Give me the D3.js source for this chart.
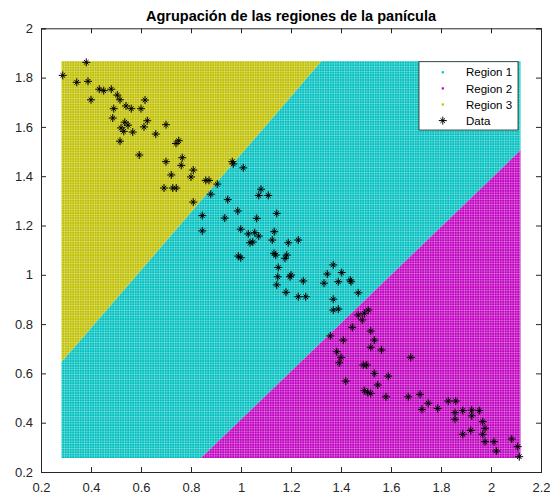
<!DOCTYPE html>
<html>
<head>
<meta charset="utf-8">
<script src="https://cdn.jsdelivr.net/npm/d3@7"></script>
<style>
  body { margin: 0; background: #fff; }
  svg { display: block; font-family: "Liberation Sans", Arial, Helvetica, sans-serif; }
</style>
</head>
<body>
<svg id="chart" width="550" height="494"></svg>
<script>
// data points (x = width-ish, y = length-ish)
var dataX = [0.287,0.381,0.343,0.388,0.40,0.433,0.451,0.481,0.505,0.516,0.491,0.487,0.54,0.561,0.60,0.616,0.625,0.612,0.535,0.548,
  0.52,0.531,0.567,0.516,0.593,0.659,0.70,0.74,0.751,0.765,0.761,0.70,0.721,0.692,0.727,0.741,0.80,0.809,0.809,0.859,
  0.872,0.879,0.905,0.845,0.845,0.965,0.969,1.009,0.947,0.935,0.987,0.999,1.029,1.063,1.055,1.071,1.036,1.047,1.08,1.071,
  1.109,1.125,1.133,1.143,1.189,1.229,0.989,0.999,1.132,1.139,1.183,1.176,1.149,1.147,1.143,1.20,1.196,1.18,1.229,1.259,
  1.249,1.369,1.345,1.403,1.332,1.389,1.437,1.44,1.369,1.369,1.389,1.469,1.469,1.485,1.493,1.509,1.445,1.357,1.409,1.519,
  1.533,1.519,1.562,1.383,1.40,1.393,1.489,1.503,1.679,1.533,1.589,1.419,1.547,1.493,1.507,1.519,1.58,1.669,1.716,1.724,
  1.749,1.787,1.829,1.859,1.856,1.856,1.887,1.887,1.923,1.923,1.953,1.919,1.967,1.976,1.967,1.976,2.012,2.021,2.083,2.107,2.113];
var dataY = [1.809,1.862,1.781,1.785,1.710,1.753,1.747,1.753,1.729,1.710,1.674,1.636,1.685,1.674,1.674,1.709,1.625,1.600,1.619,1.607,
  1.596,1.582,1.579,1.542,1.486,1.571,1.609,1.533,1.544,1.475,1.444,1.459,1.405,1.352,1.352,1.352,1.397,1.425,1.295,1.383,
  1.383,1.327,1.368,1.24,1.178,1.459,1.45,1.434,1.305,1.23,1.259,1.185,1.166,1.229,1.171,1.157,1.13,1.133,1.347,1.322,
  1.322,1.141,1.175,1.249,1.13,1.141,1.076,1.069,1.087,1.08,1.08,1.067,1.03,0.992,0.959,0.999,0.992,0.929,0.911,0.911,
  0.975,1.040,1.003,1.009,0.966,0.972,0.979,0.972,0.901,0.857,0.861,0.927,0.837,0.817,0.844,0.857,0.787,0.752,0.735,0.772,
  0.735,0.706,0.695,0.688,0.665,0.643,0.634,0.634,0.665,0.600,0.589,0.569,0.553,0.530,0.522,0.519,0.505,0.505,0.515,0.454,
  0.479,0.458,0.488,0.488,0.441,0.414,0.449,0.353,0.451,0.428,0.449,0.369,0.404,0.377,0.353,0.323,0.323,0.285,0.334,0.303,0.262];

// decision boundaries between the regions (two points on each line)
var border13 = [[0.283, 0.647], [1.319, 1.864]];
var border12 = [[0.843, 0.26], [2.119, 1.506]];
var gridStep = 0.01;

var regionNames = ["Region 1", "Region 2", "Region 3"];
var regionColors = ["rgb(0,191,191)", "rgb(191,0,191)", "rgb(191,191,0)"];

var xTicks = [0.2, 0.4, 0.6, 0.8, 1, 1.2, 1.4, 1.6, 1.8, 2, 2.2];
var yTicks = [0.2, 0.4, 0.6, 0.8, 1, 1.2, 1.4, 1.6, 1.8, 2];
var title = "Agrupación de las regiones de la panícula";

var svg = d3.select("#chart");
var axisColor = "#262626";

var x = d3.scaleLinear().domain([0.2, 2.2]).range([41, 541]);
var y = d3.scaleLinear().domain([0.2, 2]).range([472, 28.3]);

var points = dataX.map(function (d, i) { return [d, dataY[i]]; });

// grid extent = data extent (plus half a grid cell)
var xmin = d3.min(dataX) - gridStep / 2, xmax = d3.max(dataX) + gridStep / 2;
var ymin = d3.min(dataY) - gridStep / 2, ymax = d3.max(dataY) + gridStep / 2;
var box = [[xmin, ymin], [xmax, ymin], [xmax, ymax], [xmin, ymax]];

// keep the part of a polygon on one side of line a-b (sign +1 = left/above)
function clipHalf(poly, line, sign) {
    var a = line[0], b = line[1];
    function side(p) { return sign * ((b[0] - a[0]) * (p[1] - a[1]) - (b[1] - a[1]) * (p[0] - a[0])); }
    var out = [];
    for (var i = 0; i < poly.length; i++) {
        var p = poly[i], q = poly[(i + 1) % poly.length];
        var sp = side(p), sq = side(q);
        if (sp >= 0) out.push(p);
        if ((sp >= 0) != (sq >= 0)) {
            var t = sp / (sp - sq);
            out.push([p[0] + t * (q[0] - p[0]), p[1] + t * (q[1] - p[1])]);
        }
    }
    return out;
}

var regions = [
    clipHalf(clipHalf(box, border13, -1), border12, 1),
    clipHalf(box, border12, -1),
    clipHalf(box, border13, 1)
];

// dotted grid look of the classified mesh
var defs = svg.append("defs");
var cw = x(xmin + gridStep) - x(xmin), ch = y(ymin) - y(ymin + gridStep);
regionColors.forEach(function (c, i) {
    var pat = defs.append("pattern")
        .attr("id", "pat" + i)
        .attr("patternUnits", "userSpaceOnUse")
        .attr("x", x(xmin)).attr("y", y(ymax))
        .attr("width", cw).attr("height", ch);
    pat.append("rect").attr("width", cw).attr("height", ch).attr("fill", c);
    pat.append("rect").attr("width", 0.6).attr("height", ch).attr("fill", "#fff").attr("fill-opacity", 0.4);
    pat.append("rect").attr("width", cw).attr("height", 0.6).attr("fill", "#fff").attr("fill-opacity", 0.4);
});

var line = d3.line().x(function (d) { return x(d[0]); }).y(function (d) { return y(d[1]); });

svg.append("g").selectAll("path")
    .data(regions)
    .join("path")
    .attr("d", function (d) { return line(d) + "Z"; })
    .attr("fill", function (d, i) { return "url(#pat" + i + ")"; })
    .attr("stroke", "none");

// asterisk marker
var star = "M-4,0H4M0,-4V4M-2.3,-2.3L2.3,2.3M-2.3,2.3L2.3,-2.3";

svg.append("g").selectAll("path")
    .data(points)
    .join("path")
    .attr("transform", function (d) { return "translate(" + x(d[0]) + "," + y(d[1]) + ")"; })
    .attr("d", star)
    .attr("stroke", "#000")
    .attr("stroke-width", 1)
    .attr("fill", "none");

// axes with inward ticks, box on
function fmt(d) { return String(+d.toFixed(1)); }

var gx = svg.append("g").attr("transform", "translate(0,472)")
    .call(d3.axisBottom(x).tickValues(xTicks).tickFormat(fmt).tickSize(-5).tickPadding(11));
var gy = svg.append("g").attr("transform", "translate(41,0)")
    .call(d3.axisLeft(y).tickValues(yTicks).tickFormat(fmt).tickSize(-5).tickPadding(8));
var gt = svg.append("g").attr("transform", "translate(0,28.3)")
    .call(d3.axisTop(x).tickValues(xTicks).tickFormat("").tickSize(-5));
var gr = svg.append("g").attr("transform", "translate(541,0)")
    .call(d3.axisRight(y).tickValues(yTicks).tickFormat("").tickSize(-5));

[gx, gy, gt, gr].forEach(function (g) {
    g.select(".domain").attr("stroke", axisColor).attr("stroke-width", 1);
    g.selectAll(".tick line").attr("stroke", axisColor);
    g.selectAll("text").attr("fill", axisColor).style("font-size", "13px")
        .style("font-family", "'Liberation Sans', Arial, sans-serif");
});

svg.append("text")
    .attr("x", 291).attr("y", 20.5)
    .attr("text-anchor", "middle")
    .style("font-size", "14.5px")
    .style("font-weight", "bold")
    .attr("fill", "#000")
    .text(title);

// legend
var legend = svg.append("g").attr("transform", "translate(419,61.7)");
legend.append("rect")
    .attr("width", 99).attr("height", 68.3)
    .attr("fill", "#fff").attr("stroke", axisColor).attr("stroke-width", 0.8);

var legendItems = regionNames.concat(["Data"]);
var row = legend.selectAll("g")
    .data(legendItems)
    .join("g")
    .attr("transform", function (d, i) { return "translate(0," + (10.6 + i * 16.1) + ")"; });

row.each(function (d, i) {
    var r = d3.select(this);
    if (i < 3) {
        r.append("rect").attr("x", 22.7).attr("y", -1.1).attr("width", 2.2).attr("height", 2.2)
            .attr("fill", regionColors[i]);
    } else {
        r.append("path").attr("transform", "translate(23.8,0)").attr("d", star)
            .attr("stroke", "#000").attr("stroke-width", 1).attr("fill", "none");
    }
    r.append("text").attr("x", 47).attr("dy", "0.36em")
        .style("font-size", "11.5px").attr("fill", "#000").text(d);
});
</script>
</body>
</html>
